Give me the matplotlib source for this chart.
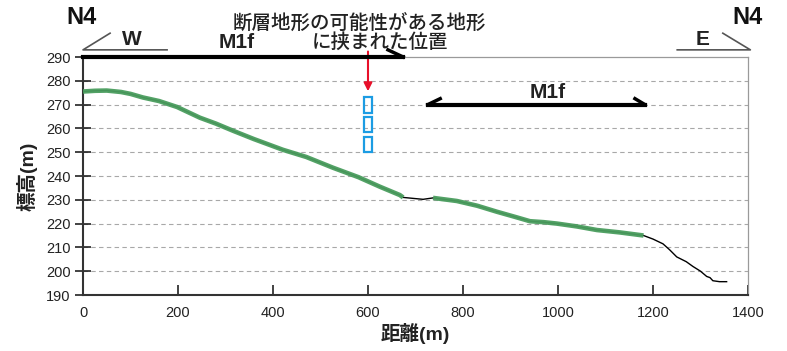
import matplotlib
matplotlib.use("Agg")
import matplotlib.pyplot as plt
import numpy as np

plt.rcParams['font.family'] = ['Liberation Sans', 'Noto Sans CJK JP']

# elevation profile along N4 (distance m, elevation m)
profile_x = [0, 25, 50, 80, 100, 126, 160, 198, 246, 280, 316, 360, 421, 470,
             526, 580, 625, 667, 674, 700, 716, 737, 787, 830, 871, 910, 941,
             970, 998, 1040, 1082, 1130, 1180, 1200, 1221, 1235, 1250, 1270,
             1284, 1300, 1313, 1320, 1326, 1340, 1355]
profile_y = [275.5, 275.8, 275.9, 275.3, 274.5, 273.0, 271.5, 269.0, 264.5,
             262.0, 259.0, 255.5, 251.0, 248.0, 243.5, 239.5, 235.5, 232.0,
             231.0, 230.5, 230.2, 230.8, 229.5, 227.5, 225.0, 222.8, 221.0,
             220.6, 220.0, 218.8, 217.3, 216.3, 215.0, 213.5, 211.5, 209.0,
             206.0, 204.0, 202.0, 200.0, 197.8, 197.3, 196.0, 195.6, 195.6]

# stretches of the profile highlighted in green (terrace surface M1f)
green_ranges = [(0, 674), (730, 1180)]

# blue boxes at the position between the possible fault landforms
box_x = 600
box_bottoms = [250.0, 258.5, 266.5]
box_height = 6.5

xticks = [0, 200, 400, 600, 800, 1000, 1200, 1400]
yticks = [190, 200, 210, 220, 230, 240, 250, 260, 270, 280, 290]

fig = plt.figure(figsize=(7.87, 3.51), dpi=100)
ax = fig.add_axes([83 / 787, 1 - 295 / 351, 665 / 787, 238 / 351])

px = np.array(profile_x)
py = np.array(profile_y)
ax.plot(px, py, color='black', linewidth=1.0, zorder=3)
for x0, x1 in green_ranges:
    m = (px >= x0) & (px <= x1)
    ax.plot(px[m], py[m], color='#4a9d5e', linewidth=3.3, alpha=0.95,
            solid_capstyle='butt', zorder=4)

for b in box_bottoms:
    ax.add_patch(plt.Rectangle((box_x - 9, b), 18, box_height, fill=False,
                               edgecolor='#1c9ce3', linewidth=1.6, zorder=5))

ax.set_xlim(0, 1400)
ax.set_ylim(190, 290)
ax.set_xticks(xticks)
ax.set_yticks(yticks)
for y in yticks[1:-1]:
    ax.axhline(y, color='#a8a8a8', linewidth=0.8, linestyle=(0, (4, 3)), zorder=1)

ax.tick_params(axis='x', direction='in', length=7, width=1.2, labelsize=10.5,
               pad=8, colors='#222222')
ax.tick_params(axis='y', direction='inout', length=11, width=1.2, labelsize=10.5,
               colors='#222222')
for s in ['left', 'bottom']:
    ax.spines[s].set_color('#333333')
    ax.spines[s].set_linewidth(1.5)
for s in ['top', 'right']:
    ax.spines[s].set_color('#9a9a9a')
    ax.spines[s].set_linewidth(0.9)

ax.set_xlabel('距離(m)', fontsize=14, fontweight='bold', color='#222222', labelpad=2)
ax.set_ylabel('標高(m)', fontsize=14, fontweight='bold', color='#222222', labelpad=6)

# M1f arrows
ax.plot([0, 674], [290, 290], color='black', linewidth=3, clip_on=False, zorder=6)
ax.plot([674, 642], [290, 293], color='black', linewidth=2.5, clip_on=False, zorder=6)
ax.text(324, 292.3, 'M1f', fontsize=15, fontweight='bold', ha='center',
        va='bottom', color='#222222')

ax.plot([726, 1183], [270, 270], color='black', linewidth=3, zorder=6)
ax.plot([726, 752], [270, 272.5], color='black', linewidth=2.5, zorder=6)
ax.plot([1183, 1162], [270, 272.5], color='black', linewidth=2.5, zorder=6)
ax.text(979, 271.3, 'M1f', fontsize=15, fontweight='bold', ha='center',
        va='bottom', color='#222222')

# direction markers
ax.plot([57, 0, 177], [300, 293, 293], color='#555555', linewidth=1.2, clip_on=False)
ax.text(103, 293.5, 'W', fontsize=15, fontweight='bold', ha='center',
        va='bottom', color='#222222')
ax.plot([1347, 1405, 1251], [300, 293, 293], color='#555555', linewidth=1.2, clip_on=False)
ax.text(1305, 293.5, 'E', fontsize=15, fontweight='bold', ha='center',
        va='bottom', color='#222222')

# red arrow
ax.annotate('', xy=(600, 275.6), xytext=(600, 292.3),
            arrowprops=dict(arrowstyle='-|>', color='#e8102a', lw=1.5,
                            mutation_scale=12, shrinkA=0, shrinkB=0),
            annotation_clip=False)

fig.text(82 / 787, 1 - 18 / 351, 'N4', fontsize=17, fontweight='bold',
         ha='center', va='center', color='#111111')
fig.text(748 / 787, 1 - 18 / 351, 'N4', fontsize=17, fontweight='bold',
         ha='center', va='center', color='#111111')
fig.text(359 / 787, 1 - 23 / 351, '断層地形の可能性がある地形', fontsize=14,
         fontweight='medium', ha='center', va='center', color='#222222')
fig.text(380 / 787, 1 - 42 / 351, 'に挟まれた位置', fontsize=14,
         fontweight='medium', ha='center', va='center', color='#222222')

fig.savefig('out.png', dpi=100)
